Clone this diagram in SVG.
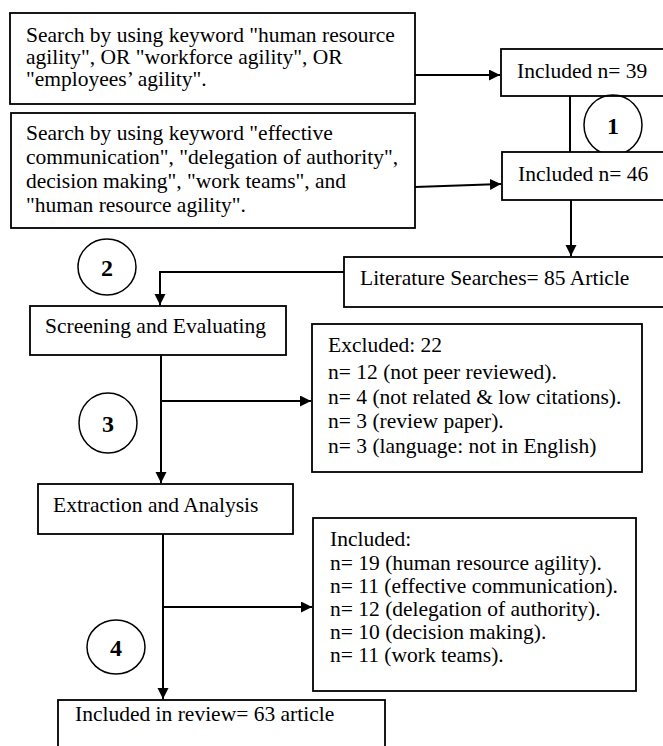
<svg xmlns="http://www.w3.org/2000/svg" width="663" height="746" viewBox="0 0 663 746">
<style>
.box{fill:#fff;stroke:#000;stroke-width:1.8}
.t{font-family:"Liberation Serif","Times New Roman",serif;font-size:21.5px;fill:#000}
.num{font-family:"Liberation Serif","Times New Roman",serif;font-size:24px;font-weight:bold;fill:#000;text-anchor:middle}
.circ{fill:none;stroke:#000;stroke-width:1.5}
.c{fill:none;stroke:#000;stroke-width:2}
</style>
<defs>
<marker id="ah" markerWidth="12" markerHeight="12" refX="11" refY="5.5" orient="auto" markerUnits="userSpaceOnUse">
<path d="M0,0 L11,5.5 L0,11 Z" fill="#000"/>
</marker>
</defs>
<rect width="663" height="746" fill="#fff"/>
<g id="connectors">
<line class="c" x1="415" y1="75" x2="500" y2="75" marker-end="url(#ah)"/>
<line class="c" x1="415" y1="187" x2="501" y2="184" marker-end="url(#ah)"/>
<line class="c" x1="570" y1="96" x2="570" y2="152"/>
<line class="c" x1="571" y1="200" x2="571" y2="256" marker-end="url(#ah)"/>
<polyline class="c" points="344,272 160,272 160,305" marker-end="url(#ah)"/>
<line class="c" x1="161" y1="355" x2="161" y2="483" marker-end="url(#ah)"/>
<line class="c" x1="161" y1="401" x2="311" y2="401" marker-end="url(#ah)"/>
<line class="c" x1="163" y1="534" x2="163" y2="699" marker-end="url(#ah)"/>
<line class="c" x1="163" y1="607" x2="312" y2="607" marker-end="url(#ah)"/>
</g>
<g id="search1">
<rect class="box" x="10" y="13" width="405" height="91"/>
<text class="t" x="26" y="42">Search by using keyword "human resource</text>
<text class="t" x="26" y="64">agility", OR "workforce agility", OR</text>
<text class="t" x="26" y="86">"employees’ agility".</text>
</g>
<g id="search2">
<rect class="box" x="11" y="113" width="404" height="115"/>
<text class="t" x="26" y="140">Search by using keyword "effective</text>
<text class="t" x="26" y="164">communication", "delegation of authority",</text>
<text class="t" x="26" y="188">decision making", "work teams", and</text>
<text class="t" x="26" y="212">"human resource agility".</text>
</g>
<g id="included39">
<rect class="box" x="501" y="49" width="170" height="47"/>
<text class="t" x="517" y="78">Included n= 39</text>
</g>
<g id="step1">
<ellipse class="circ" cx="613" cy="125" rx="29" ry="30"/>
<text class="num" x="613" y="134">1</text>
</g>
<g id="included46">
<rect class="box" x="502" y="152" width="170" height="48"/>
<text class="t" x="518" y="181">Included n= 46</text>
</g>
<g id="literature">
<rect class="box" x="344" y="257" width="327" height="50"/>
<text class="t" x="360" y="285">Literature Searches= 85 Article</text>
</g>
<g id="step2">
<ellipse class="circ" cx="107" cy="267" rx="29" ry="28"/>
<text class="num" x="107" y="276">2</text>
</g>
<g id="screening">
<rect class="box" x="30" y="306" width="256" height="49"/>
<text class="t" x="45" y="333">Screening and Evaluating</text>
</g>
<g id="excluded">
<rect class="box" x="312" y="324" width="330" height="148"/>
<text class="t" x="328" y="352">Excluded: 22</text>
<text class="t" x="328" y="379">n= 12 (not peer reviewed).</text>
<text class="t" x="328" y="404">n= 4 (not related &amp; low citations).</text>
<text class="t" x="328" y="428">n= 3 (review paper).</text>
<text class="t" x="328" y="453">n= 3 (language: not in English)</text>
</g>
<g id="step3">
<ellipse class="circ" cx="108" cy="423" rx="29" ry="30"/>
<text class="num" x="108" y="432">3</text>
</g>
<g id="extraction">
<rect class="box" x="38" y="484" width="255" height="50"/>
<text class="t" x="53" y="512">Extraction and Analysis</text>
</g>
<g id="included">
<rect class="box" x="313" y="518" width="323" height="173"/>
<text class="t" x="330" y="546">Included:</text>
<text class="t" x="330" y="570">n= 19 (human resource agility).</text>
<text class="t" x="330" y="593">n= 11 (effective communication).</text>
<text class="t" x="330" y="616">n= 12 (delegation of authority).</text>
<text class="t" x="330" y="639">n= 10 (decision making).</text>
<text class="t" x="330" y="662">n= 11 (work teams).</text>
</g>
<g id="step4">
<ellipse class="circ" cx="116" cy="647" rx="29" ry="27"/>
<text class="num" x="116" y="656">4</text>
</g>
<g id="review">
<rect class="box" x="58" y="700" width="327" height="60"/>
<text class="t" x="75" y="721">Included in review= 63 article</text>
</g>
</svg>
